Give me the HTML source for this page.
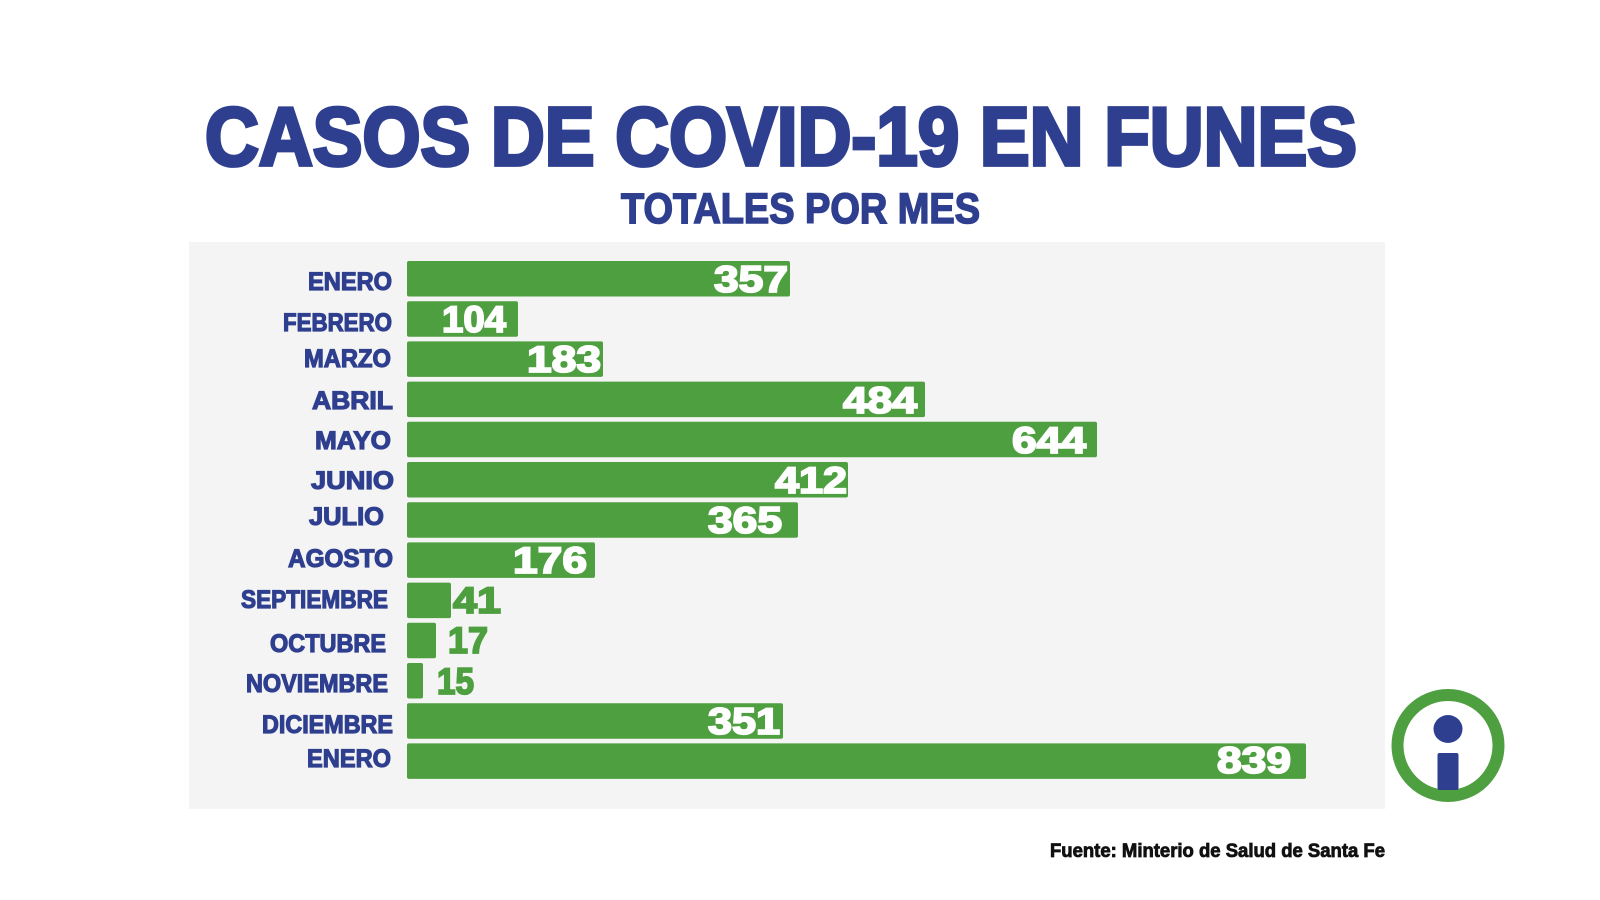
<!DOCTYPE html>
<html>
<head>
<meta charset="utf-8">
<style>
  html, body { margin: 0; padding: 0; background: #ffffff; }
  body { width: 1600px; height: 900px; overflow: hidden; }
  svg { display: block; }
  text { font-family: "Liberation Sans", Arial, sans-serif; font-weight: 700; }
  .t { fill: #2f3f8f; stroke: #2f3f8f; }
  .m { fill: #2f3f8f; stroke: #2f3f8f; stroke-width: 1.2; font-size: 25px; }
  .v { fill: #ffffff; stroke: #ffffff; stroke-width: 1.8; font-size: 37px; }
  .g { fill: #4d9f3f; stroke: #4d9f3f; stroke-width: 1.8; font-size: 37px; }
</style>
</head>
<body>
<svg width="1600" height="900" viewBox="0 0 1600 900" xmlns="http://www.w3.org/2000/svg">
  <rect x="0" y="0" width="1600" height="900" fill="#ffffff"/>

  <!-- Title -->
  <text class="t" x="205" y="165" font-size="83" stroke-width="3.8" textLength="1152" lengthAdjust="spacingAndGlyphs">CASOS DE COVID-19 EN FUNES</text>
  <text class="t" x="621" y="223" font-size="43" stroke-width="1.6" textLength="359" lengthAdjust="spacingAndGlyphs">TOTALES POR MES</text>

  <!-- Panel -->
  <rect x="189" y="242" width="1196" height="567" fill="#f4f4f4"/>

  <!-- Bars -->
  <g fill="#4d9f3f">
    <rect x="407" y="261" width="383" height="35.5" rx="2"/>
    <rect x="407" y="301.2" width="111" height="35.5" rx="2"/>
    <rect x="407" y="341.4" width="196" height="35.5" rx="2"/>
    <rect x="407" y="381.6" width="518" height="35.5" rx="2"/>
    <rect x="407" y="421.8" width="690" height="35.5" rx="2"/>
    <rect x="407" y="462" width="441" height="35.5" rx="2"/>
    <rect x="407" y="502.2" width="391" height="35.5" rx="2"/>
    <rect x="407" y="542.4" width="188" height="35.5" rx="2"/>
    <rect x="407" y="582.6" width="44" height="35.5" rx="2"/>
    <rect x="407" y="622.8" width="29" height="35.5" rx="2"/>
    <rect x="407" y="663" width="16" height="35.5" rx="2"/>
    <rect x="407" y="703.2" width="376" height="35.5" rx="2"/>
    <rect x="407" y="743.4" width="899" height="35.5" rx="2"/>
  </g>

  <!-- Month labels -->
  <text class="m" x="308" y="290" textLength="84" lengthAdjust="spacingAndGlyphs">ENERO</text>
  <text class="m" x="283" y="331" textLength="109" lengthAdjust="spacingAndGlyphs">FEBRERO</text>
  <text class="m" x="304" y="367" textLength="87" lengthAdjust="spacingAndGlyphs">MARZO</text>
  <text class="m" x="312" y="409" textLength="81" lengthAdjust="spacingAndGlyphs">ABRIL</text>
  <text class="m" x="315" y="449" textLength="76" lengthAdjust="spacingAndGlyphs">MAYO</text>
  <text class="m" x="311" y="489" textLength="83" lengthAdjust="spacingAndGlyphs">JUNIO</text>
  <text class="m" x="309" y="525" textLength="75" lengthAdjust="spacingAndGlyphs">JULIO</text>
  <text class="m" x="288" y="567" textLength="105" lengthAdjust="spacingAndGlyphs">AGOSTO</text>
  <text class="m" x="241" y="608" textLength="147" lengthAdjust="spacingAndGlyphs">SEPTIEMBRE</text>
  <text class="m" x="270" y="652" textLength="116" lengthAdjust="spacingAndGlyphs">OCTUBRE</text>
  <text class="m" x="246" y="692" textLength="142" lengthAdjust="spacingAndGlyphs">NOVIEMBRE</text>
  <text class="m" x="262" y="733" textLength="131" lengthAdjust="spacingAndGlyphs">DICIEMBRE</text>
  <text class="m" x="307" y="767" textLength="84" lengthAdjust="spacingAndGlyphs">ENERO</text>

  <!-- Value labels -->
  <text class="v" x="714" y="292" textLength="74" lengthAdjust="spacingAndGlyphs">357</text>
  <text class="v" x="442" y="332" textLength="64" lengthAdjust="spacingAndGlyphs">104</text>
  <text class="v" x="527" y="372" textLength="74" lengthAdjust="spacingAndGlyphs">183</text>
  <text class="v" x="843" y="413" textLength="74" lengthAdjust="spacingAndGlyphs">484</text>
  <text class="v" x="1012" y="453" textLength="74" lengthAdjust="spacingAndGlyphs">644</text>
  <text class="v" x="775" y="493" textLength="72" lengthAdjust="spacingAndGlyphs">412</text>
  <text class="v" x="708" y="533" textLength="74" lengthAdjust="spacingAndGlyphs">365</text>
  <text class="v" x="513" y="573" textLength="74" lengthAdjust="spacingAndGlyphs">176</text>
  <text class="g" x="453" y="613" textLength="48" lengthAdjust="spacingAndGlyphs">41</text>
  <text class="g" x="448" y="653" textLength="40" lengthAdjust="spacingAndGlyphs">17</text>
  <text class="g" x="437" y="694" textLength="37" lengthAdjust="spacingAndGlyphs">15</text>
  <text class="v" x="708" y="734" textLength="72" lengthAdjust="spacingAndGlyphs">351</text>
  <text class="v" x="1217" y="773" textLength="74" lengthAdjust="spacingAndGlyphs">839</text>

  <!-- Info icon -->
  <circle cx="1448" cy="745.5" r="50.5" fill="#ffffff" stroke="#4d9f3f" stroke-width="12"/>
  <ellipse cx="1448" cy="729" rx="14.5" ry="14" fill="#2f3f8f"/>
  <rect x="1437.5" y="753" width="21" height="37" rx="2" fill="#2f3f8f"/>

  <!-- Source -->
  <text x="1050" y="857" font-size="19" fill="#111111" stroke="#111111" stroke-width="0.8" textLength="335" lengthAdjust="spacingAndGlyphs">Fuente: Minterio de Salud de Santa Fe</text>
</svg>
</body>
</html>
